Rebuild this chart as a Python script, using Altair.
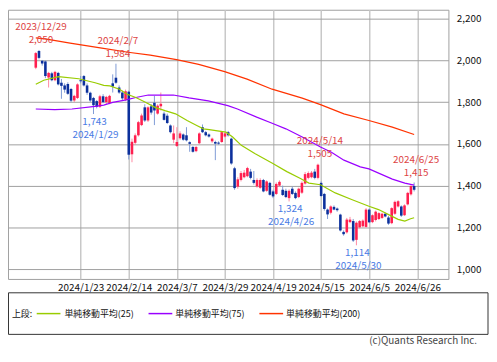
import altair as alt
import pandas as pd

# ---------------- data ----------------
# candle index: 0 = 2023/12/29, -1 = 2023/12/28, 117 = 2024/6/25 (trading days)
opens = [1965, 2045, 1998, 1995, 1918, 1938, 1905, 1940, 1893, 1880, 1887, 1863, 1808, 1820,
         1905, 1925, 1880, 1845, 1820, 1805, 1778, 1828, 1800, 1795, 1890, 1917, 1870, 1846,
         1812, 1850, 1550, 1605, 1641, 1690, 1775, 1712, 1780, 1797, 1745, 1780, 1745, 1735,
         1688, 1620, 1590, 1627, 1645, 1641, 1608, 1585, 1565, 1603, 1680, 1656, 1645, 1612,
         1609, 1606, 1609, 1635, 1656, 1625, 1483, 1395, 1427, 1440, 1445, 1467, 1427, 1396,
         1390, 1427, 1375, 1413, 1372, 1360, 1400, 1380, 1375, 1340, 1385, 1365, 1345, 1366,
         1410, 1437, 1440, 1467, 1437, 1413, 1360, 1285, 1270, 1298, 1290, 1261, 1178, 1176,
         1225, 1230, 1140, 1200, 1205, 1202, 1285, 1225, 1235, 1240, 1245, 1265, 1247, 1220,
         1265, 1300, 1300, 1258, 1310, 1358, 1398]
highs = [2040, 2050, 2002, 2000, 1945, 1945, 1950, 1945, 1911, 1890, 1895, 1868, 1835, 1890,
         1925, 1930, 1890, 1850, 1825, 1810, 1835, 1838, 1830, 1835, 1933, 1984, 1880, 1855,
         1860, 1855, 1625, 1650, 1710, 1745, 1790, 1780, 1790, 1830, 1790, 1846, 1755, 1745,
         1693, 1688, 1680, 1660, 1650, 1680, 1612, 1590, 1590, 1655, 1693, 1662, 1650, 1630,
         1615, 1612, 1662, 1655, 1662, 1630, 1490, 1440, 1470, 1475, 1490, 1480, 1470, 1435,
         1435, 1432, 1425, 1418, 1380, 1415, 1425, 1400, 1385, 1382, 1395, 1372, 1390, 1420,
         1465, 1468, 1470, 1480, 1505, 1420, 1365, 1290, 1305, 1305, 1295, 1265, 1185, 1245,
         1250, 1240, 1228, 1235, 1238, 1292, 1290, 1262, 1280, 1272, 1270, 1270, 1255, 1296,
         1328, 1330, 1305, 1310, 1370, 1402, 1415]
lows = [1958, 2005, 1975, 1915, 1870, 1900, 1900, 1880, 1816, 1845, 1835, 1800, 1800, 1815,
        1890, 1875, 1835, 1800, 1743, 1770, 1772, 1795, 1790, 1790, 1846, 1888, 1840, 1810,
        1805, 1525, 1512, 1595, 1635, 1685, 1705, 1705, 1740, 1690, 1740, 1760, 1712, 1695,
        1650, 1603, 1585, 1620, 1615, 1612, 1562, 1558, 1560, 1598, 1652, 1636, 1630, 1605,
        1522, 1595, 1605, 1630, 1635, 1500, 1380, 1385, 1420, 1435, 1440, 1430, 1405, 1390,
        1385, 1368, 1370, 1352, 1340, 1355, 1395, 1350, 1340, 1324, 1355, 1335, 1340, 1360,
        1405, 1430, 1435, 1430, 1430, 1345, 1280, 1240, 1262, 1282, 1275, 1180, 1160, 1170,
        1220, 1130, 1114, 1195, 1200, 1198, 1220, 1220, 1228, 1235, 1240, 1248, 1212, 1215,
        1260, 1295, 1250, 1255, 1305, 1352, 1372]
closes = [2035, 2012, 1985, 1925, 1940, 1905, 1945, 1885, 1878, 1860, 1840, 1807, 1830, 1885,
          1900, 1880, 1845, 1808, 1785, 1778, 1828, 1800, 1825, 1830, 1875, 1893, 1846, 1818,
          1852, 1548, 1610, 1641, 1704, 1736, 1712, 1775, 1750, 1760, 1783, 1792, 1715, 1700,
          1656, 1650, 1609, 1650, 1620, 1617, 1600, 1562, 1585, 1650, 1656, 1641, 1635, 1625,
          1601, 1601, 1656, 1650, 1641, 1506, 1388, 1430, 1460, 1462, 1484, 1437, 1413, 1427,
          1427, 1372, 1420, 1356, 1348, 1408, 1418, 1355, 1345, 1375, 1360, 1340, 1385, 1413,
          1455, 1460, 1462, 1437, 1500, 1350, 1288, 1262, 1300, 1285, 1282, 1185, 1167, 1237,
          1237, 1137, 1222, 1230, 1232, 1285, 1224, 1258, 1275, 1268, 1265, 1252, 1218, 1292,
          1322, 1325, 1256, 1305, 1365, 1398, 1380]
candle_idx = list(range(-1, 118))

tick_idx = [13, 28, 43, 58, 73, 88, 103, 118]
tick_labels = ["2024/1/23", "2024/2/14", "2024/3/7", "2024/3/29",
               "2024/4/19", "2024/5/15", "2024/6/5", "2024/6/26"]
price_ticks = [1000, 1200, 1400, 1600, 1800, 2000, 2200]

ma25_idx = [-1, 1.5, 6.1, 12.4, 17.5, 20.2, 22.1, 25.1, 27.5, 30.2, 33.2, 36.2, 39.3, 42.6,
            46.2, 49.2, 51.3, 53.1, 56.2, 58.3, 60.4, 63.1, 67.3, 72.8, 77.3, 81.4, 84.2,
            87.8, 92.4, 97.5, 102.9, 105.9, 108.9, 112.0, 114.1, 115.9, 117]
ma25_val = [1886, 1905, 1922, 1912, 1893, 1880, 1878, 1862, 1838, 1822, 1799, 1775, 1759, 1744,
            1712, 1688, 1672, 1668, 1661, 1656, 1633, 1593, 1554, 1507, 1467, 1435, 1412,
            1404, 1365, 1333, 1301, 1285, 1262, 1238, 1230, 1241, 1246]
ma75_idx = [-1, 4.9, 10.3, 17.5, 20.2, 23.0, 27.2, 30.2, 34.1, 41.9, 46.8, 52.8, 58.9, 61.9,
            67.9, 72.7, 77.0, 82.1, 87.8, 91.2, 95.1, 100.2, 102.9, 110.2, 114.1, 117]
ma75_val = [1767, 1764, 1767, 1780, 1786, 1799, 1811, 1822, 1834, 1834, 1820, 1806, 1783, 1767,
            1728, 1699, 1672, 1633, 1585, 1560, 1522, 1490, 1480, 1431, 1412, 1402]
ma200_idx = [-1, 2.4, 9.7, 19.6, 27.8, 34.7, 42.9, 49.8, 57.9, 64.9, 72.7, 82.1, 87.8, 95.1,
             102.9, 110.2, 117]
ma200_val = [2108, 2102, 2083, 2059, 2039, 2025, 2004, 1981, 1946, 1910, 1862, 1819, 1788,
             1744, 1712, 1680, 1645]

hi_idx = [0, 24, 87, 117]
hi_val = [2050, 1984, 1505, 1415]
hi_date = ["2023/12/29", "2024/2/7", "2024/5/14", "2024/6/25"]
lo_idx = [17, 78, 99]
lo_val = [1743, 1324, 1114]
lo_date = ["2024/1/29", "2024/4/26", "2024/5/30"]

# ---------------- styling ----------------
FONT = "Noto Sans CJK JP"
UP, DOWN = "#ff1f4f", "#0c309c"
UP_W, DOWN_W = "#ff8aa2", "#7f9bd6"
C25, C75, C200 = "#99cc00", "#9900ff", "#ff3300"
RED_T, BLUE_T = "#dd4444", "#4a7be4"

candles = pd.DataFrame({"i": candle_idx, "open": opens, "high": highs,
                        "low": lows, "close": closes})

label_expr = " : ".join(f"datum.value == {v} ? '{t}'" for v, t in zip(tick_idx, tick_labels)) + " : ''"

xs = alt.Scale(domain=[-8.12, 126.15], nice=False, zero=False)
ys = alt.Scale(domain=[952.6, 2242.7], nice=False, zero=False)
x_axis = alt.Axis(values=tick_idx, labelExpr=label_expr, ticks=False, domain=False,
                  grid=True, gridColor="#c8c8c8", gridWidth=1.5, labelPadding=4,
                  labelFont=FONT, labelFontSize=10, labelColor="#111", title=None,
                  labelOverlap=False)
y_axis = alt.Axis(orient="right", values=price_ticks, labelExpr="format(datum.value, ',d')",
                  ticks=False, domain=False,
                  grid=True, gridColor="#a0a0a0", gridWidth=1, labelPadding=8,
                  labelFont=FONT, labelFontSize=10, labelColor="#111", title=None)


def X(f="i"):
    return alt.X(f"{f}:Q", scale=xs, axis=x_axis, title=None)


def Y(f):
    return alt.Y(f"{f}:Q", scale=ys, axis=y_axis, title=None)


base = alt.Chart(candles)
wicks = base.mark_rule(strokeWidth=1).encode(
    x=X(), y=Y("low"), y2="high:Q",
    color=alt.condition("datum.close >= datum.open", alt.value(UP_W), alt.value(DOWN_W)))
bodies = base.mark_bar(size=2.6).encode(
    x=X(), y=Y("open"), y2="close:Q",
    color=alt.condition("datum.close >= datum.open", alt.value(UP), alt.value(DOWN)))


def ma_line(ix, vals, color):
    df = pd.DataFrame({"i": ix, "v": vals})
    return alt.Chart(df).mark_line(color=color, strokeWidth=1.2).encode(x=X(), y=Y("v"))


ma25 = ma_line(ma25_idx, ma25_val, C25)
ma75 = ma_line(ma75_idx, ma75_val, C75)
ma200 = ma_line(ma200_idx, ma200_val, C200)

hi_df = pd.DataFrame({"i": hi_idx, "p": hi_val, "d": hi_date})
lo_df = pd.DataFrame({"i": lo_idx, "p": lo_val, "d": lo_date})
txt = dict(font=FONT, fontSize=10, baseline="middle", align="center")
hi_v = alt.Chart(hi_df).mark_text(dy=-10, dx=2, color=RED_T, **txt).encode(
    x=X(), y=Y("p"), text=alt.Text("p:Q", format=",d"))
hi_d = alt.Chart(hi_df).mark_text(dy=-23, dx=2, color=RED_T, **txt).encode(
    x=X(), y=Y("p"), text="d:N")
lo_v = alt.Chart(lo_df).mark_text(dy=8, dx=1, color=BLUE_T, **txt).encode(
    x=X(), y=Y("p"), text=alt.Text("p:Q", format=",d"))
lo_d = alt.Chart(lo_df).mark_text(dy=21, dx=2, color=BLUE_T, **txt).encode(
    x=X(), y=Y("p"), text="d:N")

one = alt.InlineData(values=[{"k": 1}])
LY = 307
box = alt.Chart(one).mark_rect(fill="white", stroke="#333", strokeWidth=1).encode(
    x=alt.value(0.5), x2=alt.value(485), y=alt.value(286), y2=alt.value(328))


def ltext(x, s, size=9, align="left", color="#111", y=LY):
    return alt.Chart(one).mark_text(font=FONT, fontSize=size, align=align, baseline="middle",
                                    color=color).encode(
        x=alt.value(x), y=alt.value(y), text=alt.value(s))


def lline(x1, x2, color):
    return alt.Chart(one).mark_rule(color=color, strokeWidth=1.5).encode(
        x=alt.value(x1), x2=alt.value(x2), y=alt.value(LY))


legend = [box,
          ltext(4, "上段:"),
          lline(29, 53, C25), ltext(57, "単純移動平均(25)"),
          lline(142, 166, C75), ltext(169, "単純移動平均(75)"),
          lline(254, 278, C200), ltext(281, "単純移動平均(200)"),
          ltext(474, "(c)Quants Research Inc.", size=10, align="right", color="#444", y=335)]

chart = alt.layer(wicks, bodies, ma200, ma75, ma25, hi_d, hi_v, lo_v, lo_d, *legend).properties(
    width=445, height=272, padding=0, background="white"
).configure_view(stroke="#a0a0a0", strokeWidth=1)

chart.save("out.html", embed_options={"renderer": "svg", "actions": False})
